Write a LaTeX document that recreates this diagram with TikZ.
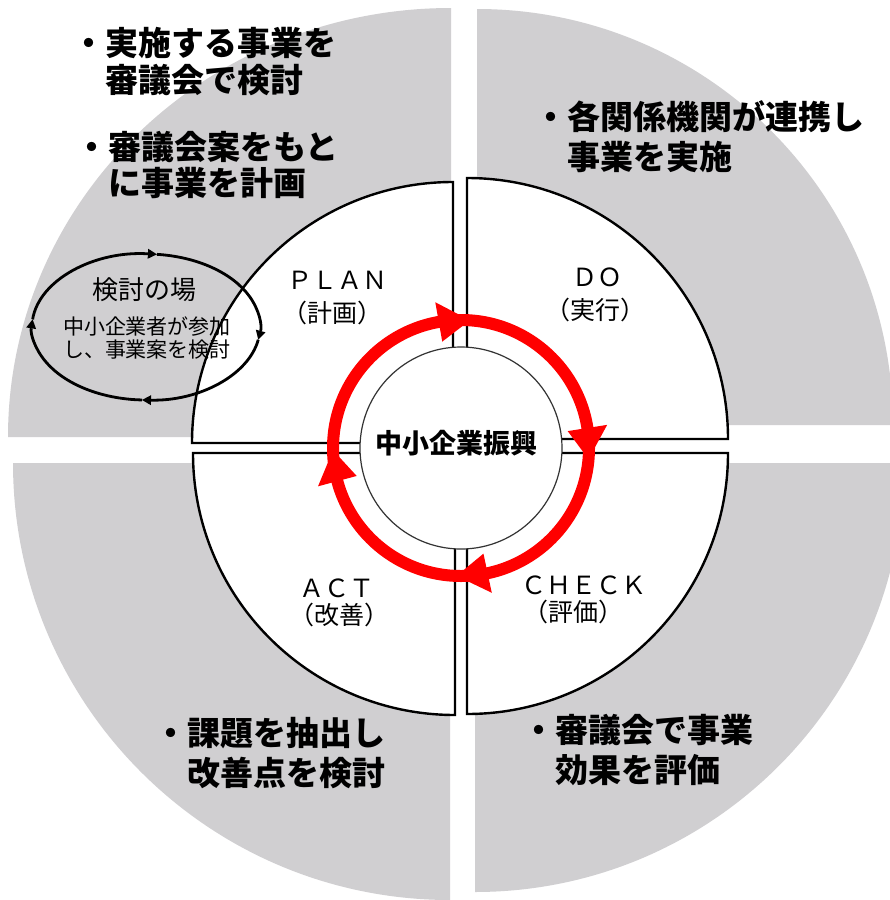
\documentclass[tikz,border=0pt]{standalone}
\usepackage{fontspec}
\setmainfont{Noto Sans CJK JP}
\usetikzlibrary{arrows.meta}
\definecolor{qgray}{RGB}{208,207,209}
\definecolor{ringred}{RGB}{255,0,0}
\tikzset{
  quad/.style={draw=black,fill=white,line width=2.4pt,line join=miter},
  ringline/.style={draw=ringred,line width=12pt},
  ringhead/.style={fill=ringred},
  looparc/.style={draw=black,line width=2.8pt,-{Triangle[width=10pt,length=9pt,line width=0pt]}},
  bullet/.style={anchor=base west,inner sep=0pt,font=\fontsize{33}{40}\selectfont\bfseries},
  phase/.style={anchor=center,inner sep=0pt,font=\fontsize{25}{30}\selectfont},
  loopbig/.style={anchor=center,inner sep=0pt,font=\fontsize{26}{30}\selectfont},
  loopsmall/.style={anchor=center,inner sep=0pt,font=\fontsize{21}{25}\selectfont},
  corecircle/.style={circle,draw=black!80,line width=1.2pt,fill=white,minimum size=202pt,inner sep=0pt},
  coretext/.style={anchor=center,inner sep=0pt,font=\fontsize{27}{32}\selectfont\bfseries}
}
\begin{document}
\begin{tikzpicture}[x=1pt,y=1pt]
\clip (0,0) rectangle (890,-900);
\fill[white] (0,0) rectangle (890,-900);
% gray outer quadrants
\fill[qgray] (451,-437) -- (8,-437) arc[start angle=180,end angle=90,x radius=443,y radius=429] -- cycle;
\fill[qgray] (477,-425) -- (477,-9) arc[start angle=90,end angle=0,radius=416] -- cycle;
\fill[qgray] (450,-463) -- (13,-463) arc[start angle=180,end angle=270,radius=437] -- cycle;
\fill[qgray] (475,-463) -- (475,-892) arc[start angle=270,end angle=360,radius=429] -- cycle;
% white inner quadrants
\draw[quad] (453,-443) -- (192,-443) arc[start angle=180,end angle=90,radius=261] -- cycle;
\draw[quad] (467,-439) -- (467,-178) arc[start angle=90,end angle=0,radius=261] -- cycle;
\draw[quad] (455,-453) -- (193,-453) arc[start angle=180,end angle=270,radius=262] -- cycle;
\draw[quad] (467,-453) -- (467,-714) arc[start angle=270,end angle=360,radius=261] -- cycle;
% core circle
\coordinate (C) at (461,-448);
\node[corecircle] (core) at (C) {};
\node[coretext] (coretitle) at (456,-443) {中小企業振興};
% red cycle
\draw[ringline] (C) circle[radius=128];
\foreach \t in {86,-5,-92,181} {
  \fill[ringhead] ([shift={(\t+14:148)}]C) -- ([shift={(\t:128)}]C) -- ([shift={(\t+14:108)}]C) -- cycle;
}
% phase labels
\node[phase] (plan) at (337,-280) {ＰＬＡＮ};
\node[phase] (planj) at (332,-313) {（計画）};
\node[phase] (do) at (597,-277) {ＤＯ};
\node[phase] (doj) at (595,-310) {（実行）};
\node[phase] (act) at (337,-588) {ＡＣＴ};
\node[phase] (actj) at (339,-615) {（改善）};
\node[phase] (check) at (584,-585) {ＣＨＥＣＫ};
\node[phase] (checkj) at (573,-612) {（評価）};
% bullet texts
\node[bullet] (tl1) at (72,-55) {・実施する事業を};
\node[bullet] (tl2) at (105,-92) {審議会で検討};
\node[bullet] (tl3) at (75,-159) {・審議会案をもと};
\node[bullet] (tl4) at (108,-195) {に事業を計画};
\node[bullet] (tr1) at (534,-129) {・各関係機関が連携し};
\node[bullet] (tr2) at (567,-169) {事業を実施};
\node[bullet] (bl1) at (154,-745) {・課題を抽出し};
\node[bullet] (bl2) at (187,-785) {改善点を検討};
\node[bullet] (br1) at (522,-742) {・審議会で事業};
\node[bullet] (br2) at (555,-782) {効果を評価};
% loop ellipse
\coordinate (E) at (146,-327);
\draw[looparc] ([shift={(174:114 and 73)}]E) arc[start angle=174,end angle=84.5,x radius=114,y radius=73];
\draw[looparc] ([shift={(84.5:114 and 73)}]E) arc[start angle=84.5,end angle=-10,x radius=114,y radius=73];
\draw[looparc] ([shift={(-10:114 and 73)}]E) arc[start angle=-10,end angle=-92,x radius=114,y radius=73];
\draw[looparc] ([shift={(-92:114 and 73)}]E) arc[start angle=-92,end angle=-186,x radius=114,y radius=73];
\node[loopbig] (looptitle) at (144,-290) {検討の場};
\node[loopsmall] (loop1) at (147,-327) {中小企業者が参加};
\node[loopsmall] (loop2) at (147,-350) {し、事業案を検討};
\end{tikzpicture}
\end{document}
